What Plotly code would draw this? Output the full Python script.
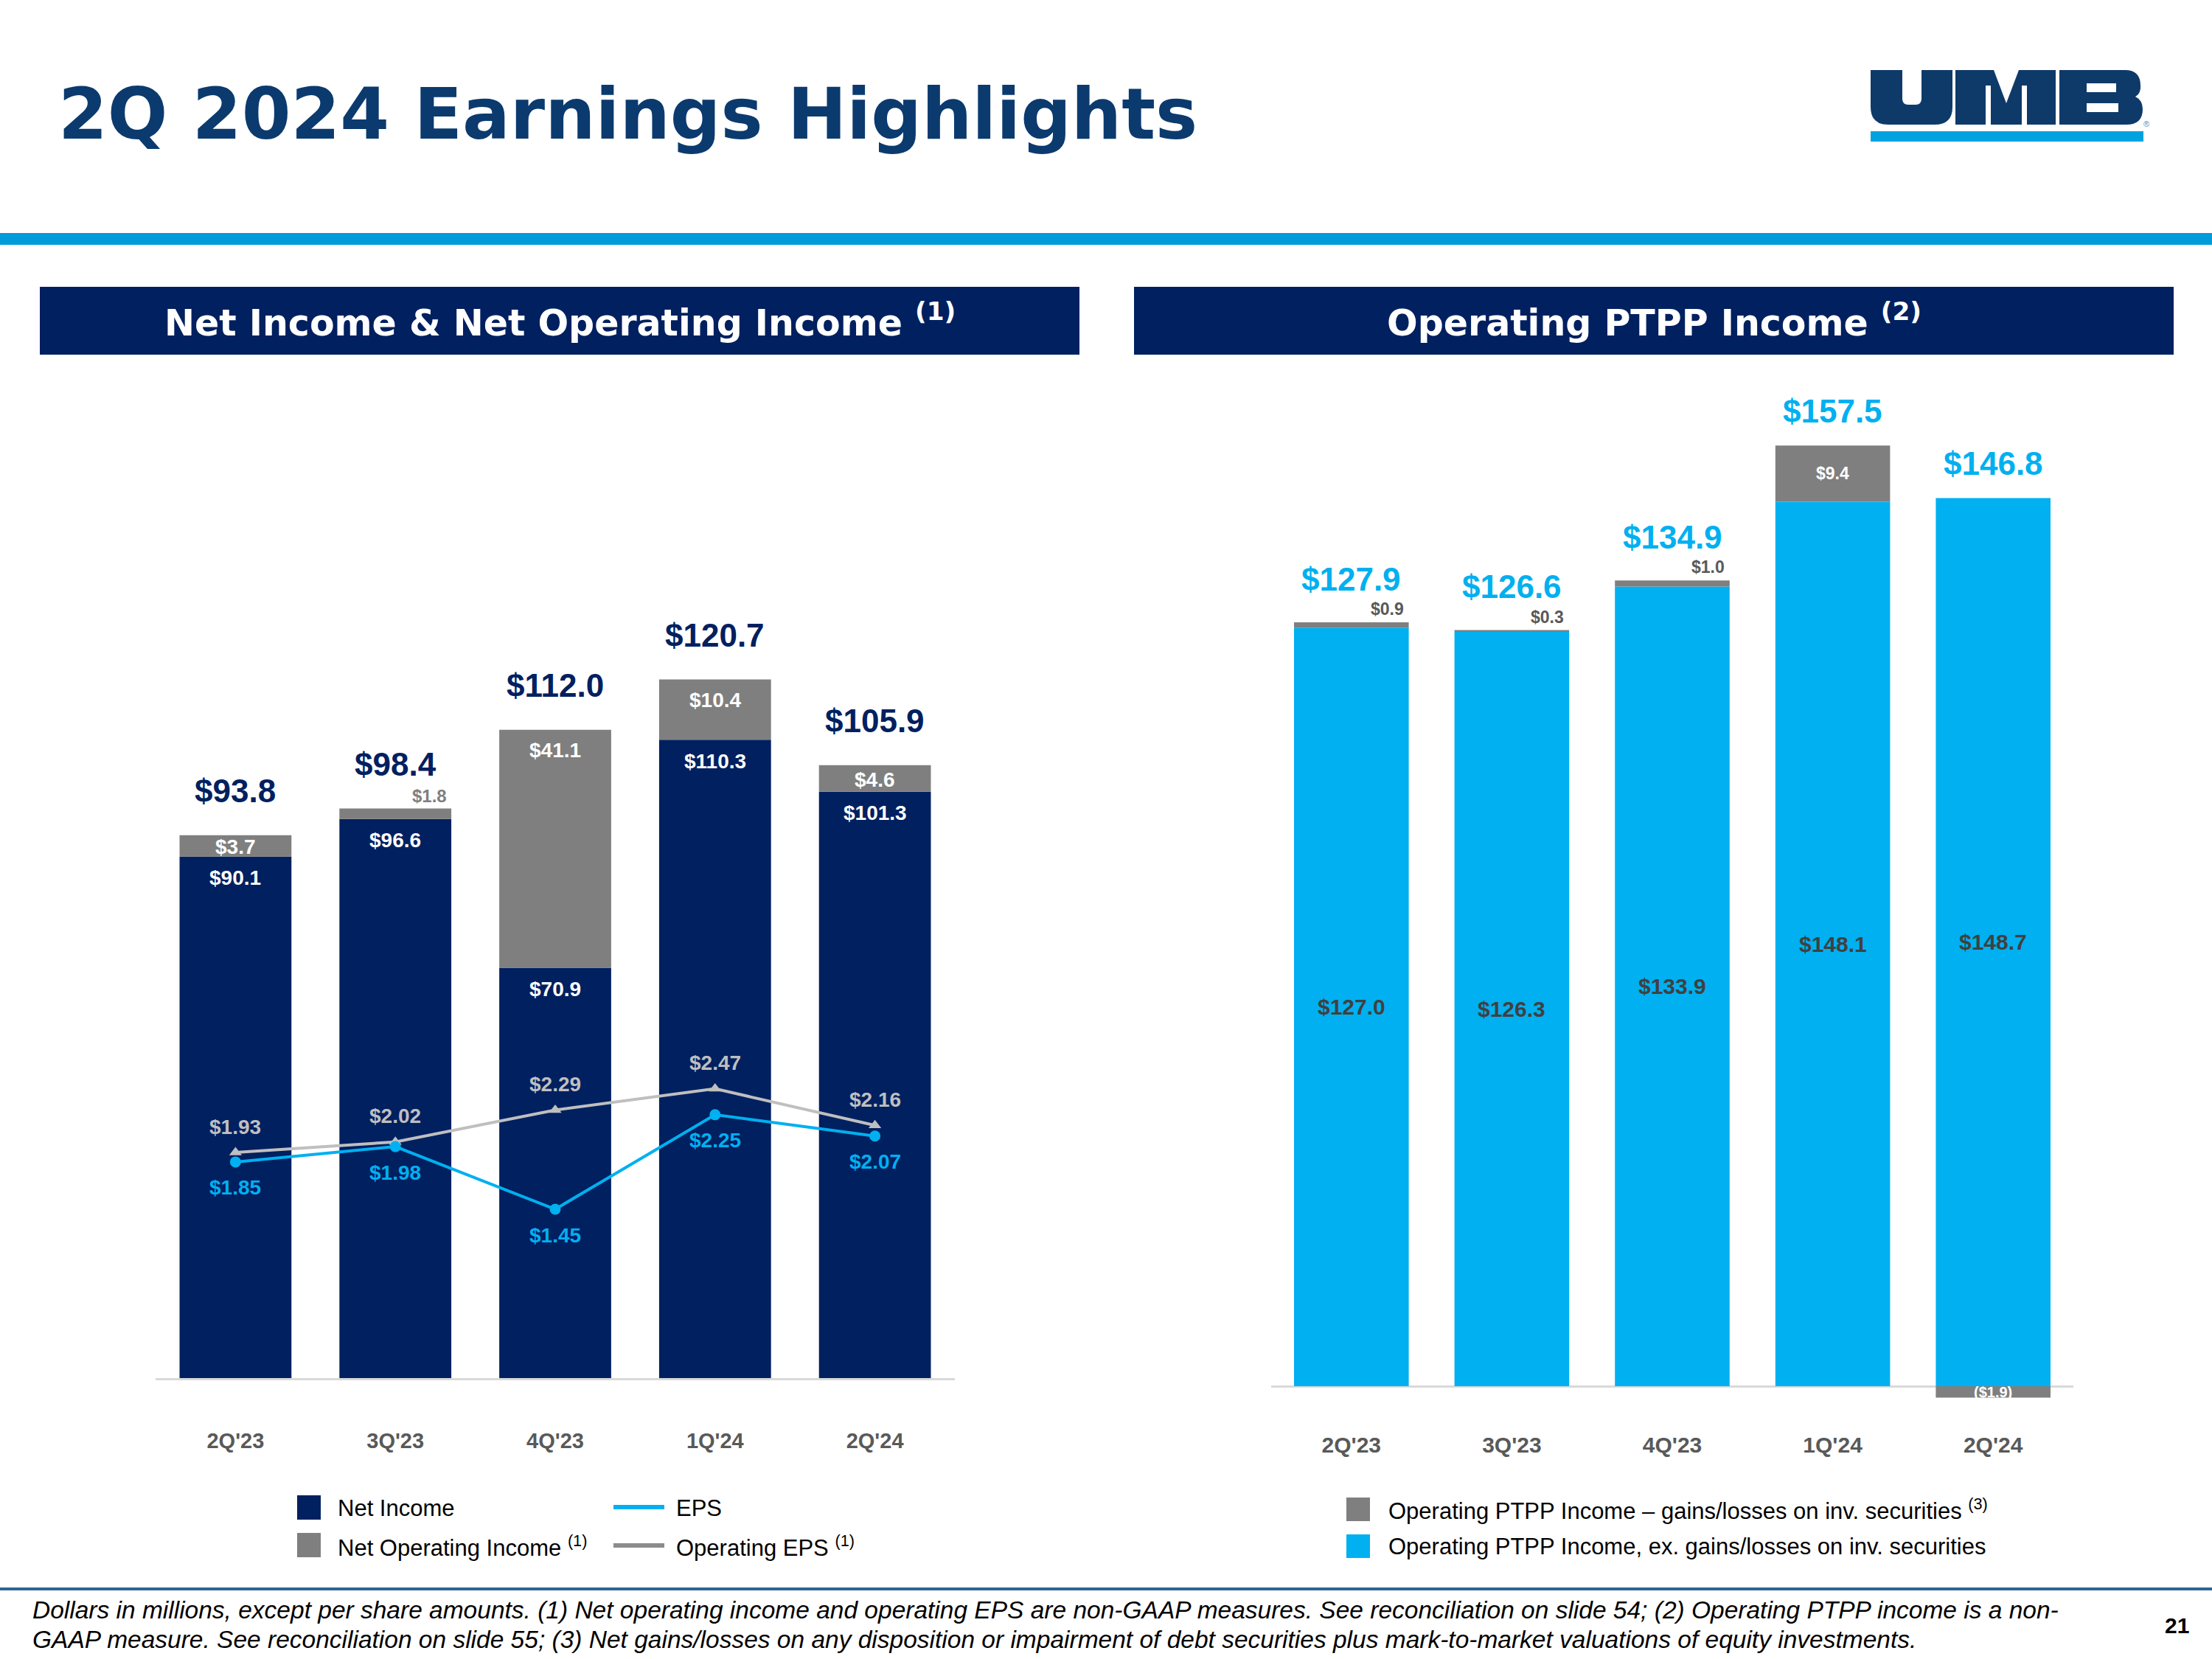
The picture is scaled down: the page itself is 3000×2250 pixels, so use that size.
import plotly.graph_objects as go

# ---------------- data ----------------
quarters = ["2Q'23", "3Q'23", "4Q'23", "1Q'24", "2Q'24"]
net_income = [90.1, 96.6, 70.9, 110.3, 101.3]
noi_adjustment = [3.7, 1.8, 41.1, 10.4, 4.6]
net_operating_income = [93.8, 98.4, 112.0, 120.7, 105.9]
eps = [1.85, 1.98, 1.45, 2.25, 2.07]
operating_eps = [1.93, 2.02, 2.29, 2.47, 2.16]
ptpp_ex_gains = [127.0, 126.3, 133.9, 148.1, 148.7]
ptpp_gains = [0.9, 0.3, 1.0, 9.4, -1.9]
ptpp_total = [127.9, 126.6, 134.9, 157.5, 146.8]

# ---------------- style ----------------
W, H = 3000, 2250
NAVY = "#002060"
TITLE_NAVY = "#0B3A6E"
GRAY = "#7F7F7F"
CYAN = "#00B0F0"
LGRAY = "#BFBFBF"
AXIS_GRAY = "#D9D9D9"
TICK_GRAY = "#595959"
ARIAL = "Liberation Sans, Arial, sans-serif"
VERDANA = "DejaVu Sans, Verdana, sans-serif"


def fx(px):
    return px / W


def fy(py):
    return 1 - py / H


# left panel geometry (pixels)
L_X0, L_X1, L_BASE, L_TOP = 211, 1295, 1869, 480
PPU_L = 7.85
EPS_REF, EPS_REF_PX, PPD = 1.45, 1640, 160.2
# right panel geometry
R_X0, R_X1, R_BASE, R_BOT, R_TOP = 1724, 2812, 1880, 1905, 480
PPU_R = 8.10

fig = go.Figure()

# ---- left: bars ----
fig.add_trace(go.Bar(x=quarters, y=net_income, marker=dict(color=NAVY, line=dict(width=0)),
                     width=0.70, xaxis="x", yaxis="y", showlegend=False, name="Net Income"))
fig.add_trace(go.Bar(x=quarters, y=noi_adjustment, marker=dict(color=GRAY, line=dict(width=0)),
                     width=0.70, xaxis="x", yaxis="y", showlegend=False, name="Net Operating Income"))
# ---- left: EPS lines ----
fig.add_trace(go.Scatter(x=quarters, y=operating_eps, mode="lines+markers", xaxis="x", yaxis="y2",
                         line=dict(color=LGRAY, width=4),
                         marker=dict(symbol="triangle-up", size=15, color=LGRAY),
                         showlegend=False, name="Operating EPS"))
fig.add_trace(go.Scatter(x=quarters, y=eps, mode="lines+markers", xaxis="x", yaxis="y2",
                         line=dict(color=CYAN, width=4),
                         marker=dict(symbol="circle", size=15, color=CYAN),
                         showlegend=False, name="EPS"))

# ---- right: bars ----
fig.add_trace(go.Bar(x=quarters, y=ptpp_ex_gains, marker=dict(color=CYAN, line=dict(width=0)),
                     width=0.715, xaxis="x2", yaxis="y3", showlegend=False))
fig.add_trace(go.Bar(x=quarters, y=ptpp_gains, marker=dict(color=GRAY, line=dict(width=0)),
                     width=0.715, xaxis="x2", yaxis="y3", showlegend=False))

ann = []


def A(text, x, y, xref, yref, size, color, bold=False, xanchor="center", yanchor="middle",
      xshift=0, yshift=0, family=ARIAL, italic=False):
    ann.append(dict(text=text, x=x, y=y, xref=xref, yref=yref, showarrow=False,
                    xanchor=xanchor, yanchor=yanchor, xshift=xshift, yshift=yshift,
                    font=dict(family=family, size=size, color=color,
                              weight="bold" if bold else "normal",
                              style="italic" if italic else "normal")))


# left labels
for q, ni, adj, tot, e, oe in zip(quarters, net_income, noi_adjustment, net_operating_income,
                                  eps, operating_eps):
    A(f"${tot:.1f}", q, tot, "x", "y", 44, NAVY, True, yshift=60)
    A(f"${ni:.1f}", q, ni, "x", "y", 28, "white", True, yshift=-29)
    seg = adj * PPU_L
    if seg < 20:
        A(f"${adj:.1f}", q, tot, "x", "y", 24, GRAY, True, xanchor="right", yanchor="bottom",
          xshift=72, yshift=2)
    else:
        A(f"${adj:.1f}", q, tot, "x", "y", 28, "white", True, yshift=-min(28, seg * 0.55))
    A(f"${e:.2f}", q, e, "x", "y2", 28, CYAN, True, yshift=-35)
    A(f"${oe:.2f}", q, oe, "x", "y2", 28, LGRAY, True, yshift=35)

# right labels
for q, ex, g, tot in zip(quarters, ptpp_ex_gains, ptpp_gains, ptpp_total):
    top = max(ex, tot)
    A(f"${tot:.1f}", q, top, "x2", "y3", 44, CYAN, True, yshift=59 if top < 140 else 47)
    A(f"${ex:.1f}", q, ex / 2, "x2", "y3", 30, "#404040", True)
    gtxt = f"${g:.1f}" if g >= 0 else f"(${abs(g):.1f})"
    if g < 0:
        A(gtxt, q, g / 2, "x2", "y3", 20, "white", True)
    elif g * PPU_R < 30:
        A(gtxt, q, tot, "x2", "y3", 23, "#595959", True, xanchor="right", yanchor="bottom",
          xshift=73, yshift=3)
    else:
        A(gtxt, q, ex + g / 2, "x2", "y3", 23, "white", True)

# title
A("2Q 2024 Earnings Highlights", fx(77), fy(155), "paper", "paper", 96, TITLE_NAVY, True,
  xanchor="left", family=VERDANA)
# section headers
A("Net Income & Net Operating Income <sup>(1)</sup>", fx(759), fy(434), "paper", "paper", 49,
  "white", True, family=VERDANA)
A("Operating PTPP Income <sup>(2)</sup>", fx(2243), fy(434), "paper", "paper", 49,
  "white", True, family=VERDANA)

# legends
A("Net Income", fx(456), fy(2045), "paper", "paper", 31, "black", xanchor="left")
A("Net Operating Income <sup>(1)</sup>", fx(456), fy(2097), "paper", "paper", 31, "black",
  xanchor="left")
A("EPS", fx(915), fy(2045), "paper", "paper", 31, "black", xanchor="left")
A("Operating EPS <sup>(1)</sup>", fx(915), fy(2097), "paper", "paper", 31, "black", xanchor="left")
A("Operating PTPP Income – gains/losses on inv. securities <sup>(3)</sup>", fx(1881), fy(2047),
  "paper", "paper", 31, "black", xanchor="left")
A("Operating PTPP Income, ex. gains/losses on inv. securities", fx(1881), fy(2097),
  "paper", "paper", 31, "black", xanchor="left")

# footnote
A("Dollars in millions, except per share amounts. (1) Net operating income and operating EPS are "
  "non-GAAP measures. See reconciliation on slide 54; (2) Operating PTPP income is a non-",
  fx(42), fy(2183), "paper", "paper", 33.5, "black", xanchor="left", italic=True)
A("GAAP measure. See reconciliation on slide 55; (3) Net gains/losses on any disposition or "
  "impairment of debt securities plus mark-to-market valuations of equity investments.",
  fx(42), fy(2223), "paper", "paper", 33.5, "black", xanchor="left", italic=True)
A("21", fx(2952), fy(2204), "paper", "paper", 30, "black", True)
A("®", fx(2911), fy(168), "paper", "paper", 11, "#4A90C8")

shapes = []


def rect(x0, y0, x1, y1, color):
    shapes.append(dict(type="rect", xref="paper", yref="paper", x0=fx(x0), x1=fx(x1),
                       y0=fy(y1), y1=fy(y0), fillcolor=color, line=dict(width=0), layer="below"))


def hline(x0, x1, y, color, width):
    shapes.append(dict(type="line", xref="paper", yref="paper", x0=fx(x0), x1=fx(x1),
                       y0=fy(y), y1=fy(y), line=dict(color=color, width=width)))


def path(cmds, color, layer="below"):
    out = []
    for c in cmds:
        if isinstance(c, str):
            out.append(c)
        else:
            out.append(f"{fx(c[0]):.5f},{fy(c[1]):.5f}")
    shapes.append(dict(type="path", xref="paper", yref="paper", path=" ".join(out),
                       fillcolor=color, line=dict(width=0), layer=layer))


# top rule and header boxes
rect(0, 316, W, 332, "#009CDA")
rect(54, 389, 1464, 481, NAVY)
rect(1538, 389, 2948, 481, NAVY)
# footer rule
hline(0, W, 2155, "#2F6496", 4)

# legend keys
rect(403, 2028, 435, 2061, NAVY)
rect(403, 2079, 435, 2112, GRAY)
hline(832, 901, 2044, CYAN, 6)
hline(832, 901, 2096, "#8C8C8C", 6)
rect(1826, 2031, 1858, 2063, GRAY)
rect(1826, 2081, 1858, 2113, CYAN)

# UMB logo (block letters)
LOGO = "#0E3A6A"
# U
path(["M", (2537, 95), "L", (2648, 95), "L", (2648, 145), "Q", (2648, 169), (2624, 169),
      "L", (2561, 169), "Q", (2537, 169), (2537, 145), "Z"], LOGO)
path(["M", (2580, 95), "L", (2606, 95), "L", (2606, 134), "Q", (2606, 142), (2598, 142),
      "L", (2588, 142), "Q", (2580, 142), (2580, 134), "Z"], "white")
# M
rect(2652, 95, 2788, 169, LOGO)
path(["M", (2704, 95), "L", (2738, 95), "L", (2721, 140), "Z"], "white")
rect(2693, 116, 2700, 169, "white")
rect(2742, 116, 2749, 169, "white")
# B
path(["M", (2793, 95), "L", (2882, 95), "Q", (2903, 95), (2903, 116), "L", (2903, 120),
      "Q", (2902, 128), (2896, 131), "Q", (2906, 136), (2906, 148), "Q", (2906, 169), (2884, 169),
      "L", (2793, 169), "Z"], LOGO)
rect(2830, 113, 2870, 125, "white")
rect(2830, 140, 2873, 152, "white")
rect(2537, 178, 2907, 192, "#00A3E0")

fig.update_layout(
    width=W, height=H, margin=dict(l=0, r=0, t=0, b=0),
    paper_bgcolor="white", plot_bgcolor="rgba(0,0,0,0)",
    barmode="relative", bargap=0.3,
    annotations=ann, shapes=shapes,
    xaxis=dict(domain=[fx(L_X0), fx(L_X1)], anchor="y", type="category", range=[-0.5, 4.5],
               showline=True, linecolor=AXIS_GRAY, linewidth=3, ticks="", showgrid=False,
               tickfont=dict(family=ARIAL, size=29, color=TICK_GRAY, weight="bold"),
               ticklabelstandoff=57, fixedrange=True),
    yaxis=dict(domain=[fy(L_BASE), fy(L_TOP)], range=[0, (L_BASE - L_TOP) / PPU_L],
               showticklabels=False, showgrid=False, zeroline=False, showline=False, ticks=""),
    yaxis2=dict(overlaying="y", anchor="x",
                range=[EPS_REF - (L_BASE - EPS_REF_PX) / PPD, EPS_REF + (EPS_REF_PX - L_TOP) / PPD],
                showticklabels=False, showgrid=False, zeroline=False, showline=False, ticks=""),
    xaxis2=dict(domain=[fx(R_X0), fx(R_X1)], anchor="y3", type="category", range=[-0.5, 4.5],
                showline=False, ticks="", showgrid=False,
                tickfont=dict(family=ARIAL, size=30, color=TICK_GRAY, weight="bold"),
                ticklabelstandoff=34, fixedrange=True),
    yaxis3=dict(domain=[fy(R_BOT), fy(R_TOP)],
                range=[-(R_BOT - R_BASE) / PPU_R, (R_BASE - R_TOP) / PPU_R],
                showticklabels=False, showgrid=False, zeroline=True, zerolinecolor=AXIS_GRAY,
                zerolinewidth=3, showline=False, ticks=""),
)

fig.write_html("out.html", config={"displayModeBar": False},
               post_script="document.body.style.margin='0';")
